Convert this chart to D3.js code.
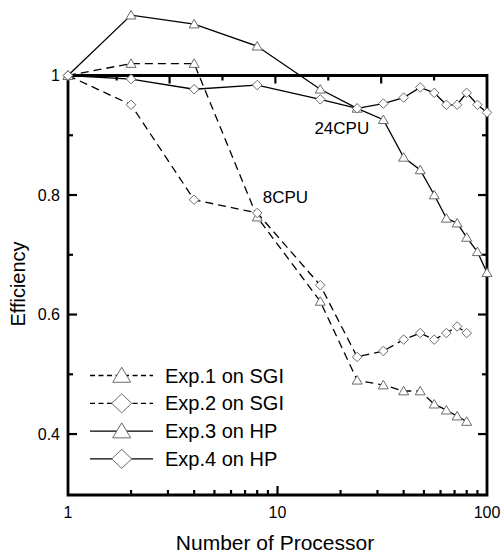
<!DOCTYPE html>
<html>
<head>
<meta charset="utf-8">
<script src="https://cdn.jsdelivr.net/npm/d3@7"></script>
<style>
  html, body { margin: 0; padding: 0; background: #fff; }
  svg { display: block; }
  text { font-family: "Liberation Sans", Arial, Helvetica, sans-serif; fill: #000; }
</style>
</head>
<body>
<svg id="chart" width="501" height="556"></svg>
<script>
// Processor counts used by each machine
const sgiProcs = [1, 2, 4, 8, 16, 24, 32, 40, 48, 56, 64, 72, 80];
const hpProcs  = [1, 2, 4, 8, 16, 24, 32, 40, 48, 56, 64, 72, 80, 90, 100];

// Parallel efficiency for each experiment
const exp1 = [1.0, 1.02, 1.02, 0.763, 0.622, 0.49, 0.482, 0.472, 0.472, 0.45, 0.44, 0.43, 0.421];
const exp2 = [1.0, 0.951, 0.792, 0.77, 0.649, 0.529, 0.539, 0.558, 0.569, 0.558, 0.569, 0.58, 0.569];
const exp3 = [1.0, 1.101, 1.086, 1.049, 0.977, 0.945, 0.926, 0.863, 0.842, 0.80, 0.761, 0.753, 0.729, 0.705, 0.670];
const exp4 = [1.0, 0.994, 0.977, 0.984, 0.960, 0.945, 0.953, 0.963, 0.980, 0.971, 0.951, 0.951, 0.971, 0.951, 0.938];

const seriesNames = ["Exp.1 on SGI", "Exp.2 on SGI", "Exp.3 on HP", "Exp.4 on HP"];
const seriesMarkers = ["triangle", "diamond", "triangle", "diamond"];
const seriesDashed = [true, true, false, false];

// Axis ticks
const xTickLabels = [1, 10, 100];
const yTickLabels = [0.4, 0.6, 0.8, 1];
const yMinorTicks = [0.5, 0.7, 0.9];
const topMajorTicks = [25, 50, 75];
const topMinorTicks = [12.5, 37.5, 62.5, 87.5];

const annotations = [
  { text: "8CPU", x: 8.5, y: 0.787 },
  { text: "24CPU", x: 15, y: 0.902 }
];

(function () {
  const series = [
    { x: sgiProcs, y: exp1 },
    { x: sgiProcs, y: exp2 },
    { x: hpProcs, y: exp3 },
    { x: hpProcs, y: exp4 }
  ].map((s, i) => ({
    name: seriesNames[i],
    marker: seriesMarkers[i],
    dashed: seriesDashed[i],
    points: s.x.map((p, j) => ({ p, e: s.y[j] }))
  }));

  const svg = d3.select("#chart");
  const L = 68, R = 487, T = 75.5, B = 495;

  const x = d3.scaleLog().domain([1, 100]).range([L, R]);
  const y = d3.scaleLinear().domain([0.298, 1.0]).range([B, T]);
  const xTop = d3.scaleLinear().domain([1, 100]).range([L, R]);

  const markerStroke = "#6a6a6a";

  function markerPath(type, w, h) {
    if (type === "triangle") {
      return `M0,${-h * 0.55}L${w / 2},${h * 0.45}L${-w / 2},${h * 0.45}Z`;
    }
    return `M0,${-h / 2}L${w / 2},0L0,${h / 2}L${-w / 2},0Z`;
  }

  // Data lines
  const line = d3.line().x(d => x(d.p)).y(d => y(d.e));
  const plot = svg.append("g");
  series.forEach(s => {
    plot.append("path")
      .attr("d", line(s.points))
      .attr("fill", "none")
      .attr("stroke", "#000")
      .attr("stroke-width", 1.3)
      .attr("stroke-dasharray", s.dashed ? "8,5" : null);
  });

  // Axis frame
  svg.append("path").attr("d", `M${L},${T}V${B}H${R}V${T}Z`)
    .attr("fill", "none").attr("stroke", "#000").attr("stroke-width", 2.8)
    .attr("stroke-linejoin", "miter");

  // Bottom ticks (log, inward)
  const ticks = svg.append("g").attr("stroke", "#000").attr("stroke-width", 2.2);
  x.ticks().filter(v => v > 1 && v < 100).forEach(v => {
    const major = Math.abs(Math.log10(v) - Math.round(Math.log10(v))) < 1e-9;
    ticks.append("line")
      .attr("x1", x(v)).attr("x2", x(v))
      .attr("y1", B).attr("y2", B - (major ? 9 : 5));
  });
  // Top ticks (linear, inward)
  topMajorTicks.forEach(v => ticks.append("line").attr("x1", xTop(v)).attr("x2", xTop(v)).attr("y1", T).attr("y2", T + 8));
  topMinorTicks.forEach(v => ticks.append("line").attr("x1", xTop(v)).attr("x2", xTop(v)).attr("y1", T).attr("y2", T + 5));
  // Left and right ticks
  yTickLabels.filter(v => v < 1).forEach(v => {
    ticks.append("line").attr("x1", L).attr("x2", L + 9).attr("y1", y(v)).attr("y2", y(v));
    ticks.append("line").attr("x1", R).attr("x2", R - 9).attr("y1", y(v)).attr("y2", y(v));
  });
  yMinorTicks.forEach(v => {
    ticks.append("line").attr("x1", L).attr("x2", L + 5).attr("y1", y(v)).attr("y2", y(v));
    ticks.append("line").attr("x1", R).attr("x2", R - 5).attr("y1", y(v)).attr("y2", y(v));
  });

  // Tick labels
  svg.append("g").selectAll("text").data(xTickLabels).join("text")
    .attr("x", d => x(d)).attr("y", 518)
    .attr("text-anchor", "middle").attr("font-size", 16)
    .text(d => d);
  svg.append("g").selectAll("text").data(yTickLabels).join("text")
    .attr("x", 60).attr("y", d => y(d)).attr("dy", "0.36em")
    .attr("text-anchor", "end").attr("font-size", 16)
    .text(d => d);

  // Axis titles
  svg.append("text").attr("x", 275).attr("y", 550).attr("text-anchor", "middle")
    .attr("font-size", 21).text("Number of Processor");
  svg.append("text").attr("transform", "translate(25,284) rotate(-90)").attr("text-anchor", "middle")
    .attr("font-size", 20).text("Efficiency");

  // Markers
  series.forEach(s => {
    const w = s.marker === "triangle" ? 10 : 9.5;
    const h = s.marker === "triangle" ? 8.5 : 9.5;
    svg.append("g").selectAll("path").data(s.points).join("path")
      .attr("transform", d => `translate(${x(d.p)},${y(d.e)})`)
      .attr("d", markerPath(s.marker, w, h))
      .attr("fill", "#fff").attr("stroke", markerStroke).attr("stroke-width", 1);
  });

  // Annotations
  svg.append("g").selectAll("text").data(annotations).join("text")
    .attr("x", d => x(d.x)).attr("y", d => y(d.y))
    .attr("font-size", 17).text(d => d.text);

  // Legend
  const legend = svg.append("g");
  series.forEach((s, i) => {
    const cy = 375.5 + i * 27.8;
    legend.append("line").attr("x1", 90).attr("x2", 153).attr("y1", cy).attr("y2", cy)
      .attr("stroke", "#000").attr("stroke-width", 1.3)
      .attr("stroke-dasharray", s.dashed ? "5,3.5" : null);
    const w = s.marker === "triangle" ? 18 : 20;
    const h = s.marker === "triangle" ? 15 : 19;
    legend.append("path").attr("transform", `translate(121.7,${cy})`)
      .attr("d", markerPath(s.marker, w, h))
      .attr("fill", "#fff").attr("stroke", markerStroke).attr("stroke-width", 1);
    legend.append("text").attr("x", 165).attr("y", cy + 7).attr("font-size", 20).text(s.name);
  });
})();
</script>
</body>
</html>
